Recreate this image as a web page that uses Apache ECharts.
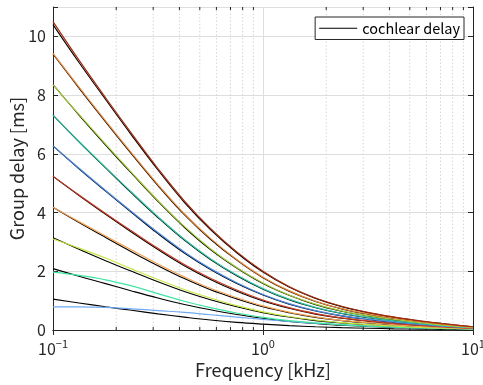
<!DOCTYPE html>
<html>
<head>
<meta charset="utf-8">
<script src="https://cdn.jsdelivr.net/npm/echarts@6/dist/echarts.min.js"></script>
<style>html,body{margin:0;padding:0;background:#fff}#c{width:483px;height:385px}</style>
</head>
<body>
<div id="c"></div>
<script>
// Frequency grid [kHz]
const freqs = [0.1,0.133,0.178,0.237,0.316,0.422,0.562,0.75,1,1.33,1.78,2.37,3.16,4.22,5.62,7.5,10];

// Cochlear delay curves (black) [ms]
const cochlear1  = [1.05,0.92,0.79,0.67,0.55,0.44,0.34,0.26,0.2,0.15,0.11,0.08,0.06,0.04,0.03,0.02,0.01];
const cochlear2  = [2.09,1.83,1.58,1.33,1.09,0.87,0.69,0.53,0.4,0.29,0.22,0.16,0.12,0.09,0.06,0.04,0.02];
const cochlear3  = [3.14,2.75,2.36,2.0,1.64,1.31,1.03,0.79,0.59,0.44,0.32,0.24,0.18,0.13,0.09,0.06,0.03];
const cochlear4  = [4.18,3.66,3.15,2.66,2.19,1.75,1.37,1.06,0.79,0.59,0.43,0.32,0.24,0.18,0.12,0.08,0.04];
const cochlear5  = [5.23,4.58,3.94,3.33,2.74,2.19,1.72,1.32,0.99,0.74,0.54,0.4,0.3,0.22,0.16,0.1,0.06];
const cochlear6  = [6.27,5.49,4.73,4.0,3.28,2.62,2.06,1.58,1.19,0.88,0.65,0.48,0.36,0.26,0.19,0.12,0.07];
const cochlear7  = [7.32,6.41,5.52,4.66,3.83,3.06,2.4,1.85,1.39,1.03,0.76,0.56,0.42,0.31,0.22,0.14,0.08];
const cochlear8  = [8.36,7.32,6.3,5.33,4.38,3.5,2.74,2.11,1.58,1.18,0.86,0.64,0.48,0.35,0.25,0.16,0.09];
const cochlear9  = [9.4,8.24,7.09,5.99,4.92,3.93,3.09,2.38,1.78,1.32,0.97,0.72,0.54,0.4,0.28,0.18,0.1];
const cochlear10 = [10.4,9.11,7.85,6.63,5.45,4.35,3.42,2.63,1.97,1.46,1.07,0.79,0.59,0.43,0.3,0.2,0.11];

// Approximated group delay curves (coloured) [ms]
const approx1  = [0.79,0.79,0.77,0.72,0.66,0.6,0.52,0.44,0.36,0.29,0.23,0.18,0.14,0.1,0.07,0.05,0.03];
const approx2  = [1.97,1.86,1.71,1.5,1.24,0.98,0.76,0.58,0.43,0.32,0.24,0.18,0.13,0.1,0.07,0.05,0.03];
const approx3  = [3.1,2.79,2.45,2.08,1.72,1.38,1.09,0.83,0.62,0.46,0.34,0.25,0.18,0.13,0.09,0.06,0.04];
const approx4  = [4.18,3.69,3.2,2.72,2.25,1.81,1.42,1.1,0.82,0.61,0.45,0.33,0.25,0.18,0.12,0.08,0.05];
const approx5  = [5.24,4.6,3.97,3.37,2.78,2.23,1.76,1.36,1.02,0.76,0.56,0.41,0.31,0.22,0.16,0.1,0.06];
const approx6  = [6.27,5.51,4.75,4.03,3.32,2.66,2.09,1.61,1.21,0.9,0.66,0.49,0.37,0.27,0.19,0.12,0.07];
const approx7  = [7.31,6.42,5.54,4.69,3.86,3.09,2.43,1.87,1.41,1.05,0.77,0.57,0.43,0.31,0.22,0.14,0.08];
const approx8  = [8.36,7.34,6.33,5.36,4.41,3.53,2.77,2.13,1.6,1.19,0.88,0.65,0.49,0.36,0.25,0.16,0.09];
const approx9  = [9.42,8.27,7.12,6.02,4.95,3.96,3.12,2.4,1.8,1.34,0.98,0.73,0.55,0.4,0.28,0.18,0.1];
const approx10 = [10.5,9.19,7.91,6.69,5.5,4.4,3.46,2.66,2.0,1.48,1.09,0.81,0.6,0.44,0.31,0.2,0.11];

const approxColors = ['#6fa9f2','#3fe6a2','#c4e83e','#f4a252','#c83a22','#4a88e2','#2fc6a6','#a6cc38','#ec8a36','#a82a0c'];

// Axis ticks
const xMajorTicks = [0.1, 1, 10];
const xMinorTicks = [0.2,0.3,0.4,0.5,0.6,0.7,0.8,0.9,2,3,4,5,6,7,8,9];
const yTicks = [0,2,4,6,8,10];

const cochlear = [cochlear1,cochlear2,cochlear3,cochlear4,cochlear5,cochlear6,cochlear7,cochlear8,cochlear9,cochlear10];
const approx = [approx1,approx2,approx3,approx4,approx5,approx6,approx7,approx8,approx9,approx10];

const FONT = 'Noto Sans CJK JP';
const AX = '#262626';

const series = [];
series.push({
  type: 'custom',
  silent: true,
  z: 1,
  data: xMinorTicks.map(v => [v]),
  renderItem: function (params, api) {
    const b = api.coord([api.value(0), 0]);
    const t = api.coord([api.value(0), 11]);
    return {
      type: 'group',
      children: [
        {type:'line', shape:{x1:b[0],y1:b[1],x2:t[0],y2:t[1]}, style:{stroke:'#d6d6d6', lineWidth:1, lineDash:[1.5,2]}},
        {type:'line', shape:{x1:b[0],y1:b[1],x2:b[0],y2:b[1]-3}, style:{stroke:AX, lineWidth:1}},
        {type:'line', shape:{x1:t[0],y1:t[1],x2:t[0],y2:t[1]+3}, style:{stroke:AX, lineWidth:1}}
      ]
    };
  }
});
cochlear.forEach(arr => {
  series.push({
    name: 'cochlear delay', type: 'line', smooth: 0.4, showSymbol: false, z: 3,
    data: freqs.map((f,i) => [f, arr[i]]),
    lineStyle: {color: '#000', width: 1.1}, itemStyle: {color: '#000'}
  });
});
approx.forEach((arr, k) => {
  series.push({
    name: 'approx' + (k+1), type: 'line', smooth: 0.4, showSymbol: false, z: 4,
    data: freqs.map((f,i) => [f, arr[i]]),
    lineStyle: {color: approxColors[k], width: 1.2}, itemStyle: {color: approxColors[k]}
  });
});

const chart = echarts.init(document.getElementById('c'));
chart.setOption({
  backgroundColor: '#fff',
  animation: false,
  textStyle: {fontFamily: FONT},
  grid: {left: 53, right: 10, top: 7, bottom: 55, containLabel: false, outerBoundsMode: 'none'},
  legend: {
    data: ['cochlear delay'],
    right: 19, top: 17,
    backgroundColor: '#fff', borderColor: AX, borderWidth: 1, borderRadius: 0,
    padding: [4, 4, 4, 4],
    itemWidth: 38, itemHeight: 1, itemGap: 4,
    icon: 'rect',
    textStyle: {fontFamily: FONT, fontSize: 14.5, color: '#000'}
  },
  xAxis: [{
    type: 'log', logBase: 10, min: 0.1, max: 10,
    name: 'Frequency [kHz]', nameLocation: 'middle', nameGap: 31,
    nameTextStyle: {fontFamily: FONT, fontSize: 18, color: AX},
    axisLine: {lineStyle: {color: AX, width: 1}},
    axisTick: {inside: true, length: 5, lineStyle: {color: AX}},
    splitLine: {show: true, lineStyle: {color: '#dedede', width: 1}},
    axisLabel: {
      margin: 8, color: AX, fontFamily: FONT,
      formatter: function (v) {
        const e = Math.round(Math.log10(v));
        return '{b|10}{s|' + (e < 0 ? '−' + (-e) : e) + '}';
      },
      rich: {
        b: {fontSize: 16, color: AX, fontFamily: FONT},
        s: {fontSize: 11, color: AX, fontFamily: FONT, padding: [0, 0, 10, 0]}
      }
    }
  }, {
    type: 'log', logBase: 10, min: 0.1, max: 10, position: 'top',
    axisLine: {show: true, lineStyle: {color: AX, width: 1}},
    axisTick: {inside: true, length: 5, lineStyle: {color: AX}},
    axisLabel: {show: false}, splitLine: {show: false}
  }],
  yAxis: [{
    type: 'value', min: 0, max: 11, interval: 2,
    name: 'Group delay [ms]', nameLocation: 'middle', nameGap: 27, nameMoveOverlap: false,
    nameTextStyle: {fontFamily: FONT, fontSize: 18, color: AX},
    axisLine: {show: true, lineStyle: {color: AX, width: 1}},
    axisTick: {show: true, inside: true, length: 5, lineStyle: {color: AX}},
    splitLine: {show: true, lineStyle: {color: '#dedede', width: 1}},
    axisLabel: {
      margin: 7, color: AX, fontSize: 16, fontFamily: FONT,
      formatter: function (v) { return yTicks.indexOf(v) >= 0 ? String(v) : ''; }
    }
  }, {
    type: 'value', min: 0, max: 11, interval: 2, position: 'right',
    axisLine: {show: true, lineStyle: {color: AX, width: 1}},
    axisTick: {show: true, inside: true, length: 5, lineStyle: {color: AX}},
    axisLabel: {show: false}, splitLine: {show: false}
  }],
  series: series
});
</script>
</body>
</html>
